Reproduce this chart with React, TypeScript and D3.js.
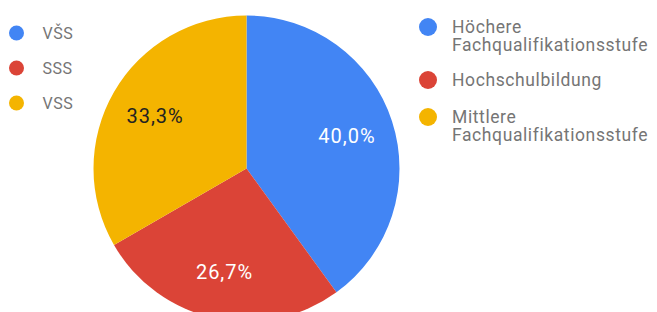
import React, { useEffect, useRef } from 'react'
import * as d3 from 'd3'

// slices, clockwise from 12 o'clock
const categories = ['VŠS', 'SSS', 'VSS']
const values = [6, 4, 5]
const colors = ['#4285f4', '#db4437', '#f4b400']
const labelColors = ['#ffffff', '#ffffff', '#222222']

// second legend (same colours)
const rightLegend = [
  ['Höchere', 'Fachqualifikationsstufe'],
  ['Hochschulbildung'],
  ['Mittlere', 'Fachqualifikationsstufe']
]

const width = 657
const height = 312
const font = 'Roboto, Arial, sans-serif'

const App: React.FC = () => {
  const svgRef = useRef<SVGSVGElement>(null)

  useEffect(() => {
    if (!svgRef.current) return
    document.body.style.margin = '0'

    const svg = d3.select(svgRef.current)
    svg.selectAll('*').remove()
    svg.attr('width', width).attr('height', height)

    const cx = 246.5
    const cy = 168.5
    const r = 153

    const total = d3.sum(values)
    const pie = d3.pie<number>().sort(null).value(d => d)
    const arcs = pie(values)
    const arc = d3.arc<d3.PieArcDatum<number>>().innerRadius(0).outerRadius(r)
    const labelArc = d3.arc<d3.PieArcDatum<number>>().innerRadius(r * 0.69).outerRadius(r * 0.69)

    const g = svg.append('g').attr('transform', `translate(${cx},${cy})`)

    g.selectAll('path')
      .data(arcs)
      .enter()
      .append('path')
      .attr('d', arc)
      .attr('fill', (d, i) => colors[i])

    g.selectAll('.slice-label')
      .data(arcs)
      .enter()
      .append('text')
      .attr('class', 'slice-label')
      .attr('transform', d => `translate(${labelArc.centroid(d)})`)
      .attr('text-anchor', 'middle')
      .attr('dy', '0.35em')
      .style('font-family', font)
      .style('font-size', '20px')
      .style('letter-spacing', '1px')
      .style('fill', (d, i) => labelColors[i])
      .text(d => (d.value / total * 100).toFixed(1).replace('.', ',') + '%')

    // left legend
    const left = svg.append('g').attr('transform', 'translate(16.5,33)')
    const leftItems = left.selectAll('g')
      .data(categories)
      .enter()
      .append('g')
      .attr('transform', (d, i) => `translate(0,${i * 35})`)

    leftItems.append('circle')
      .attr('r', 7.5)
      .attr('fill', (d, i) => colors[i])

    leftItems.append('text')
      .attr('x', 26)
      .attr('dy', '0.35em')
      .style('font-family', font)
      .style('font-size', '16px')
      .style('letter-spacing', '0.5px')
      .style('fill', '#757575')
      .text(d => d)

    // right legend
    const rowY = [27, 80, 117]
    const right = svg.append('g').attr('transform', 'translate(428,0)')
    const rightItems = right.selectAll('g')
      .data(rightLegend)
      .enter()
      .append('g')
      .attr('transform', (d, i) => `translate(0,${rowY[i]})`)

    rightItems.append('circle')
      .attr('r', 9)
      .attr('fill', (d, i) => colors[i])

    rightItems.append('text')
      .attr('x', 24)
      .style('font-family', font)
      .style('font-size', '17.5px')
      .style('letter-spacing', '0.6px')
      .style('fill', '#757575')
      .selectAll('tspan')
      .data(d => d)
      .enter()
      .append('tspan')
      .attr('x', 24)
      .attr('y', (d, i) => 5.5 + i * 18)
      .text(d => d)
  }, [])

  return <svg ref={svgRef} style={{ display: 'block', background: '#fff' }}></svg>
}

export default App
